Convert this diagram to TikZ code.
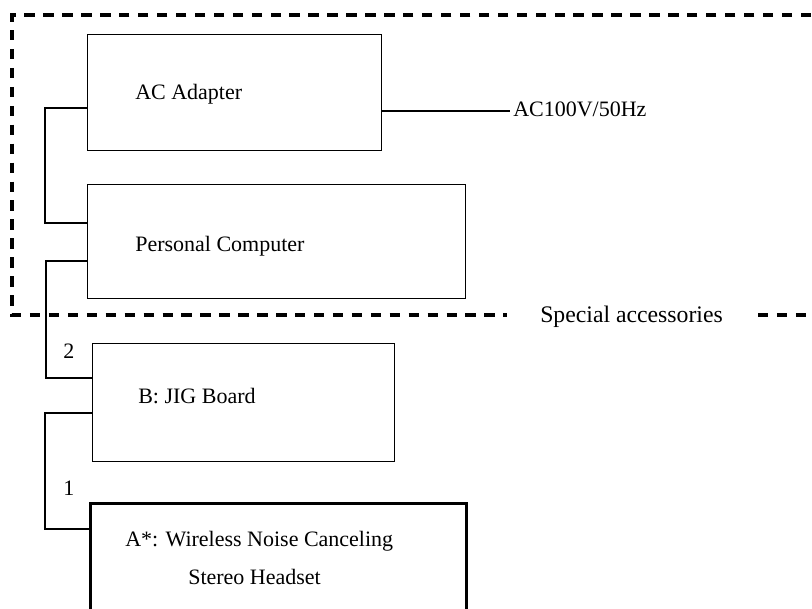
\documentclass[tikz,border=0pt]{standalone}
\usepackage{fontspec}
\setmainfont{Liberation Serif}
\begin{document}
\begin{tikzpicture}[x=0.75pt,y=-0.75pt,
  box/.style={draw, line width=0.8pt, anchor=north west, inner sep=0pt},
  thickbox/.style={draw, line width=2.2pt, anchor=north west, inner sep=0pt},
  lbl/.style={anchor=base west, inner sep=0pt, font=\fontsize{16.5}{19}\selectfont},
  wire/.style={line width=0.8pt},
  frame/.style={line width=2.3pt, dash pattern=on 7.8pt off 6.4pt}]
\useasboundingbox (0,0) rectangle (812,609);
\clip (0,0) rectangle (812,609);
% dashed frame
\draw[frame] (830,15) -- (12,15) -- (12,315) -- (507,315);
\draw[frame] (758,315) -- (830,315);
\node[lbl, font=\fontsize{17.8}{20}\selectfont] (sa) at (540,322) {Special accessories};
% boxes
\node[box, minimum width={294*0.75pt}, minimum height={116*0.75pt}] (ac) at (87,34) {};
\node[box, minimum width={378*0.75pt}, minimum height={114*0.75pt}] (pc) at (87,184) {};
\node[box, minimum width={302*0.75pt}, minimum height={118*0.75pt}] (jig) at (92,343) {};
\node[thickbox, minimum width={376*0.75pt}, minimum height={140*0.75pt}] (hs) at (89,502) {};
% texts
\node[lbl] (tac) at (135,100) {AC Adapter};
\node[lbl] (tpc) at (135,252) {Personal Computer};
\node[lbl] (tjig) at (138,403) {B: JIG Board};
\node[lbl] (ths1) at (125,546) {A*: Wireless Noise Canceling};
\node[lbl] (ths2) at (188,584) {Stereo Headset};
\node[lbl] (pwr) at (513,117) {AC100V/50Hz};
\node[lbl] (n2) at (63,358) {2};
\node[lbl] (n1) at (63,495) {1};
% connectors
\draw[wire] (ac.east |- 0,111) -- ([xshift=-3*0.75pt]pwr.west |- 0,111);
\draw[wire] (ac.west |- 0,108) -- (45,108) -- (45,223) -- (pc.west |- 0,223);
\draw[wire] (pc.west |- 0,261) -- (46,261) -- (46,378) -- (jig.west |- 0,378);
\draw[wire] (jig.west |- 0,413) -- (45,413) -- (45,529) -- (hs.west |- 0,529);
\end{tikzpicture}
\end{document}
